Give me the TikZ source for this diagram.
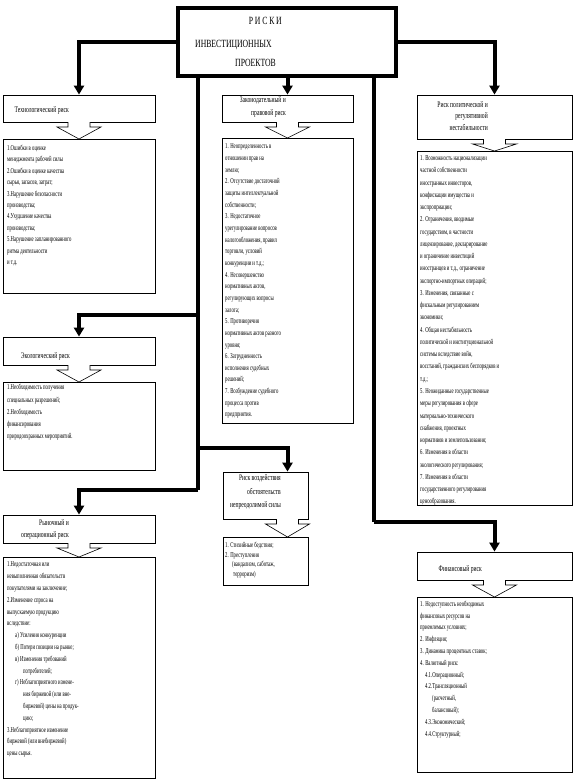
\documentclass[tikz,border=0pt]{standalone}
\usepackage{fontspec}
\setmainfont{Liberation Serif}
\newfontfamily\riskbody[FakeStretch=0.63]{Liberation Serif}
\newfontfamily\riskhead[FakeStretch=0.66]{Liberation Serif}
\newfontfamily\risktitle[FakeStretch=0.7]{Liberation Serif}
\usetikzlibrary{arrows.meta}

\tikzset{
  box/.style={draw, line width=0.8pt, inner sep=0pt},
  conn/.style={line width=4pt, -{Triangle[width=10pt,length=9pt]}},
  trunk/.style={line width=4pt},
  hollow/.style={draw, line width=0.6pt, fill=white, line join=miter},
  listtext/.style={anchor=north west, inner sep=0pt, align=left,
    execute at begin node=\strut},
  headtext/.style={anchor=north east, inner sep=0pt, align=right,
    execute at begin node=\strut},
}

\begin{document}
\begin{tikzpicture}[x=1pt,y=-1pt]
  \fill[white] (0,0) rectangle (573,782);
  \useasboundingbox (0,0) rectangle (573,782);

  % Главный блок
  \node[draw, line width=4pt, minimum width=218pt, minimum height=68pt, inner sep=0pt] (title) at (287,42) {};
  \node[anchor=base east, inner sep=0pt, font=\risktitle\fontsize{11}{13}\selectfont] (t1) at (282,24) {Р\,И\,С\,К\,И};
  \node[anchor=base west, inner sep=0pt, font=\risktitle\fontsize{11}{13}\selectfont] (t2) at (195,47) {ИНВЕСТИЦИОННЫХ};
  \node[anchor=base west, inner sep=0pt, font=\risktitle\fontsize{11}{13}\selectfont] (t3) at (235,66) {ПРОЕКТОВ};

  % Заголовки рисков
  \node[box, minimum width=152pt, minimum height=27pt] (tech) at (79,108.5) {};
  \node[box, minimum width=131pt, minimum height=27pt] (legal) at (287.5,108.5) {};
  \node[box, minimum width=155pt, minimum height=44pt] (polit) at (494.5,117) {};
  \node[box, minimum width=152pt, minimum height=28pt] (ecol) at (79,351) {};
  \node[box, minimum width=85pt, minimum height=47pt] (force) at (265.5,495.5) {};
  \node[box, minimum width=152pt, minimum height=28pt] (market) at (79,529) {};
  \node[box, minimum width=155pt, minimum height=28pt] (fin) at (494.5,566) {};

  % Списки
  \node[box, minimum width=152pt, minimum height=154pt] (techlist) at (79,216) {};
  \node[box, minimum width=131pt, minimum height=285pt] (legallist) at (287.5,280.5) {};
  \node[box, minimum width=155pt, minimum height=354pt] (politlist) at (494.5,328) {};
  \node[box, minimum width=152pt, minimum height=88pt] (ecollist) at (79,426) {};
  \node[box, minimum width=85pt, minimum height=48pt] (forcelist) at (265.5,561) {};
  \node[box, minimum width=152pt, minimum height=221pt] (marketlist) at (79,667.5) {};
  \node[box, minimum width=155pt, minimum height=175pt] (finlist) at (494.5,684.5) {};

  % Тексты заголовков
  \node[headtext, font=\riskhead\fontsize{8.5}{12}\selectfont] at (69,103.6) {Технологический риск};
  \node[headtext, font=\riskhead\fontsize{8.5}{13}\selectfont] at (286,96.5) {Законодательный и\\правовой риск};
  \node[headtext, font=\riskhead\fontsize{8.5}{11.5}\selectfont] at (488,101) {Риск политической и\\регулятивной\\нестабильности};
  \node[headtext, font=\riskhead\fontsize{8.5}{12}\selectfont] at (70,349.6) {Экологический риск};
  \node[headtext, font=\riskhead\fontsize{8.5}{13.5}\selectfont] at (281,474.6) {Риск воздействия\\обстоятельств\\непреодолимой силы};
  \node[headtext, font=\riskhead\fontsize{8.5}{12}\selectfont] at (69,519.6) {Рыночный и\\операционный риск};
  \node[headtext, font=\riskhead\fontsize{8.5}{12}\selectfont] at (482,562.6) {Финансовый риск};

  % Тексты списков
  \node[listtext, font=\riskbody\fontsize{7.5}{11.4}\selectfont] at (7,145) {1.Ошибки в оценке\\
    менеджмента рабочей силы\\
    2.Ошибки в оценке качества\\
    сырья, запасов, затрат;\\
    3.Нарушение безопасности\\
    производства;\\
    4.Ухудшение качества\\
    производства;\\
    5.Нарушение запланированного\\
    ритма деятельности\\
    и т.д.};
  \node[listtext, font=\riskbody\fontsize{7.5}{11.65}\selectfont] at (225,143.8) {1. Неопределенность в\\
    отношении прав на\\
    землю;\\
    2. Отсутствие достаточной\\
    защиты интеллектуальной\\
    собственности;\\
    3. Недостаточное\\
    урегулирование вопросов\\
    налогообложения, правил\\
    торговли, условий\\
    конкуренции и т.д.;\\
    4. Несовершенство\\
    нормативных актов,\\
    регулирующих вопросы\\
    залога;\\
    5. Противоречия\\
    нормативных актов разного\\
    уровня;\\
    6. Затрудненность\\
    исполнения судебных\\
    решений;\\
    7. Возбуждение судебного\\
    процесса против\\
    предприятия.};
  \node[listtext, font=\riskbody\fontsize{7.5}{12.26}\selectfont] at (420,155.4) {1. Возможность национализации\\
    частной собственности\\
    иностранных инвесторов,\\
    конфискации имущества и\\
    экспроприации;\\
    2. Ограничения, вводимые\\
    государством, в частности\\
    лицензирование, декларирование\\
    и ограничение инвестиций\\
    иностранцев и т.д., ограничение\\
    экспортно-импортных операций;\\
    3. Изменения, связанные с\\
    фискальным регулированием\\
    экономики;\\
    4. Общая нестабильность\\
    политической и институциональной\\
    системы вследствие войн,\\
    восстаний, гражданских беспорядков и\\
    т.д.;\\
    5. Неожиданные государственные\\
    меры регулирования в сфере\\
    материально-технического\\
    снабжения, проектных\\
    нормативов и землепользования;\\
    6. Изменения в области\\
    экологического регулирования;\\
    7. Изменения в области\\
    государственного регулирования\\
    ценообразования.};
  \node[listtext, font=\riskbody\fontsize{7.5}{12.25}\selectfont] at (7,384.4) {1.Необходимость получения\\
    специальных разрешений;\\
    2.Необходимость\\
    финансирования\\
    природоохранных мероприятий.};
  \node[listtext, font=\riskbody\fontsize{7.5}{9.4}\selectfont] at (225,542.4) {1. Стихийные бедствия;\\
    2. Преступления\\
    \hspace*{7pt}(вандализм, саботаж,\\
    \hspace*{8pt}терроризм)};
  \node[listtext, font=\riskbody\fontsize{7.5}{11.8}\selectfont] at (7,561.7) {1.Недостаточная или\\
    невыполненная обязательств\\
    покупателями на заключение;\\
    2.Изменение спроса на\\
    выпускаемую продукцию\\
    вследствие:\\
    \hspace*{8pt}а) Усиления конкуренции\\
    \hspace*{8pt}б) Потери позиции на рынке;\\
    \hspace*{8pt}в) Изменения требований\\
    \hspace*{16pt}потребителей;\\
    \hspace*{8pt}г) Неблагоприятного измене-\\
    \hspace*{16pt}ния биржевой (или вне-\\
    \hspace*{16pt}биржевой) цены на продук-\\
    \hspace*{16pt}цию;\\
    3.Неблагоприятное изменение\\
    биржевой (или внебиржевой)\\
    цены сырья.};
  \node[listtext, font=\riskbody\fontsize{7.5}{11.8}\selectfont] at (420,600.7) {1. Недоступность необходимых\\
    финансовых ресурсов на\\
    приемлемых условиях;\\
    2. Инфляция;\\
    3. Динамика процентных ставок;\\
    4. Валютный риск:\\
    \hspace*{5pt}4.1.Операционный;\\
    \hspace*{5pt}4.2.Трансляционный\\
    \hspace*{12pt}(расчетный,\\
    \hspace*{12pt}балансовый);\\
    \hspace*{5pt}4.3.Экономический;\\
    \hspace*{5pt}4.4.Структурный;};

  % Полые стрелки от заголовка к списку
  \foreach \cx/\ty/\by in {79/122/139, 287.5/122/138, 494.5/139/151, 79/365/382,
                          287.5/519/537, 79/543/557, 494.5/580/597}{
    \draw[hollow] ({\cx-11},\ty) -- ({\cx-11},{\ty+5}) -- ({\cx-22},{\ty+5}) -- (\cx,\by)
      -- ({\cx+22},{\ty+5}) -- ({\cx+11},{\ty+5}) -- ({\cx+11},\ty);
  }

  % Соединительные линии
  \coordinate (lt) at ([xshift=22pt]title.south west);
  \coordinate (rt) at ([xshift=-24pt]title.south east);
  \coordinate (L1) at (198,315);
  \coordinate (L2) at (198,448);
  \coordinate (L3) at (198,490);
  \coordinate (R1) at (374,522);

  \draw[conn] (title.west) -| (tech.north);
  \draw[conn] (title.east) -| (polit.north);
  \draw[conn] (title.south -| legal.north) -- (legal.north);
  \draw[trunk] (lt) -- (L3);
  \draw[trunk] (rt) -- (R1);
  \draw[conn] (L1) -| (ecol.north);
  \draw[conn] (L2) -| (force.north -| legal.north);
  \draw[conn] (L3) -| (market.north);
  \draw[conn] (R1) -| (fin.north);
\end{tikzpicture}
\end{document}
